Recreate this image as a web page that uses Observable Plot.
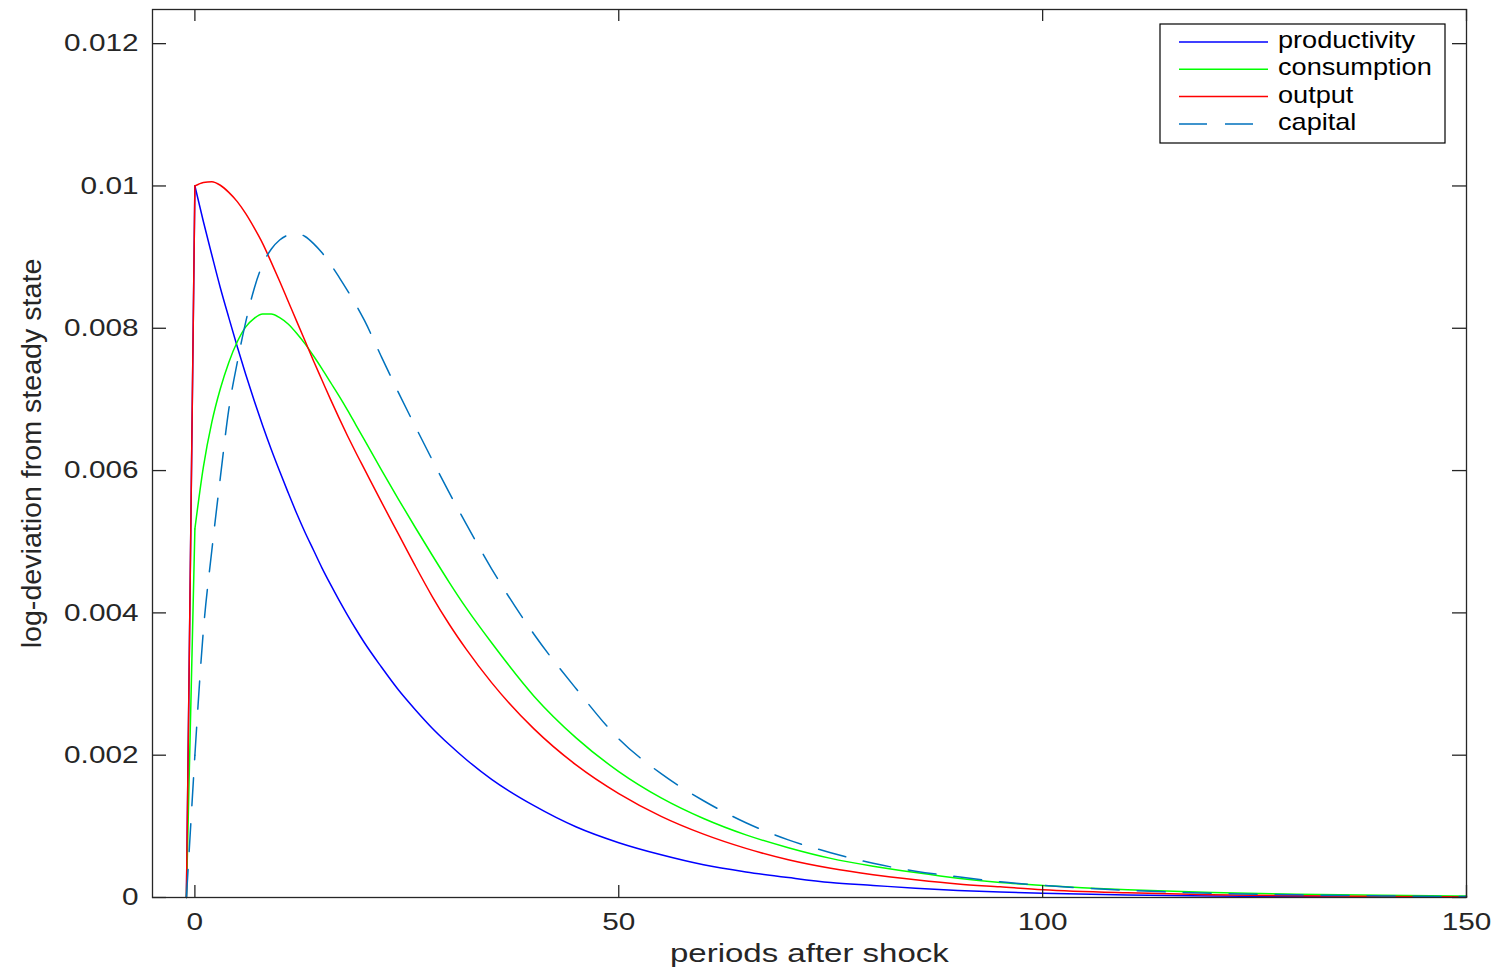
<!DOCTYPE html>
<html><head><meta charset="utf-8">
<script src="https://cdn.jsdelivr.net/npm/d3@7"></script>
<script src="https://cdn.jsdelivr.net/npm/@observablehq/plot@0.6"></script>
<style>
html,body{margin:0;padding:0;background:#fff;}
#chart svg{display:block;}
</style></head><body><div id="chart"></div>
<script>
const periods = [-1,0,1,2,3,4,5,6,7,8,9,10,11,12,13,14,15,16,17,18,19,20,22,24,26,28,30,32,35,40,45,50,55,60,65,70,75,80,85,90,95,100,110,120,130,140,150];
const productivity = [0,0.0100,0.0095,0.00903,0.00857,0.00815,0.00774,0.00735,0.00698,0.00663,0.00630,0.00599,0.00569,0.00540,0.00513,0.00488,0.00463,0.00440,0.00418,0.00397,0.00377,0.00358,0.00324,0.00292,0.00264,0.00238,0.00215,0.00194,0.00166,0.00129,0.00099,0.00077,0.00060,0.00046,0.00036,0.00028,0.00021,0.00017,0.00013,0.00010,0.000077,0.00006,0.000036,0.000021,0.000013,0.000008,0.000005];
const consumption = [0,0.00518,0.00605,0.00668,0.00715,0.00752,0.00781,0.00802,0.00814,0.00820,0.00820,0.00815,0.00806,0.00793,0.00778,0.00761,0.00743,0.00724,0.00705,0.00685,0.00664,0.00643,0.00601,0.00560,0.00520,0.00481,0.00443,0.00407,0.00358,0.00283,0.00224,0.00177,0.00140,0.00111,0.00088,0.00070,0.00055,0.00044,0.00035,0.00027,0.00021,0.00017,0.00011,0.00007,0.000045,0.00003,0.00002];
const output = [0,0.0100,0.01005,0.01006,0.01001,0.00991,0.00978,0.00961,0.00941,0.00919,0.00893,0.00866,0.00838,0.00810,0.00782,0.00754,0.00727,0.00700,0.00674,0.00649,0.00625,0.00602,0.00556,0.00511,0.00466,0.00423,0.00384,0.00349,0.00302,0.00237,0.00186,0.00146,0.00114,0.00089,0.00069,0.00053,0.00041,0.00032,0.00025,0.00019,0.00015,0.00011,0.000066,0.00004,0.000024,0.000014,0.000008];
const capital = [0,0.00200,0.00375,0.00488,0.00590,0.00686,0.00752,0.00809,0.00856,0.00890,0.00911,0.00924,0.00931,0.00933,0.00929,0.00919,0.00906,0.00890,0.00872,0.00853,0.00833,0.00811,0.00760,0.00710,0.00662,0.00615,0.00569,0.00525,0.00462,0.00370,0.00293,0.00223,0.00174,0.00136,0.00105,0.00081,0.00063,0.00048,0.00037,0.00029,0.00022,0.00017,0.00010,0.00006,0.000037,0.000022,0.000013];

const seriesNames = ["productivity", "consumption", "output", "capital"];
const seriesColors = ["#0000ff", "#00ff00", "#ff0000", "#0072bd"];
const xTicks = [0, 50, 100, 150];
const yTicks = [0, 0.002, 0.004, 0.006, 0.008, 0.01, 0.012];
const yTickLabels = ["0", "0.002", "0.004", "0.006", "0.008", "0.01", "0.012"];
const xLabel = "periods after shock";
const yLabel = "log-deviation from steady state";

const seriesValues = [productivity, consumption, output, capital];
const font = "'Liberation Sans', Arial, Helvetica, sans-serif";
const ink = "#262626";
const dash = "28,18";

// indices: the jump from the steady state (t=-1 to t=0) is drawn straight,
// the response from t=0 onward is drawn as a smooth curve
const jumpIdx = periods.map((t, j) => j).filter(j => periods[j] <= 0);
const pathIdx = periods.map((t, j) => j).filter(j => periods[j] >= 0);

const lineMarks = seriesNames.flatMap((name, i) => {
  const opts = {
    x: j => periods[j],
    y: j => seriesValues[i][j],
    stroke: seriesColors[i],
    strokeWidth: 1.5,
    strokeDasharray: name === "capital" ? dash : null
  };
  return [
    Plot.line(jumpIdx, opts),
    Plot.line(pathIdx, {...opts, curve: "monotone-x"})
  ];
});

const chart = Plot.plot({
  width: 1495,
  height: 972,
  marginLeft: 152,
  marginRight: 29,
  marginTop: 9,
  marginBottom: 75,
  style: {fontFamily: font, fontSize: "24px", color: ink, background: "#fff"},
  x: {domain: [-5, 150], ticks: xTicks, tickSize: 0, tickPadding: 15, label: null},
  y: {domain: [0, 0.01248], ticks: yTicks, tickSize: 0, tickPadding: 14, label: null,
      tickFormat: d => yTickLabels[yTicks.indexOf(d)]},
  marks: [
    ...lineMarks,
    Plot.frame({stroke: ink, strokeWidth: 1.3}),
    Plot.tickX(xTicks, {x: d => d, insetTop: 876, stroke: ink, strokeWidth: 1.3}),
    Plot.tickX(xTicks, {x: d => d, insetBottom: 876, stroke: ink, strokeWidth: 1.3}),
    Plot.tickY(yTicks, {y: d => d, insetRight: 1300, stroke: ink, strokeWidth: 1.3}),
    Plot.tickY(yTicks, {y: d => d, insetLeft: 1300, stroke: ink, strokeWidth: 1.3}),
    Plot.text([xLabel], {text: d => d, frameAnchor: "bottom", dy: 56, fontSize: 26, fill: ink,
      textAnchor: "middle", lineAnchor: "middle"}),
    Plot.text([yLabel], {text: d => d, frameAnchor: "left", dx: -120, rotate: -90, fontSize: 27, fill: ink,
      textAnchor: "middle", lineAnchor: "middle"})
  ]
});

document.getElementById("chart").appendChild(chart);

// Legend (inside the axes, top right)
const svg = d3.select(chart);
const lg = svg.append("g").attr("font-family", font).attr("font-size", 23).attr("fill", "#000")
  .attr("text-anchor", "start");
lg.append("rect").attr("x", 1160).attr("y", 24).attr("width", 285).attr("height", 119)
  .attr("fill", "#fff").attr("stroke", "#000").attr("stroke-width", 1.2);
seriesNames.forEach((name, i) => {
  const yy = 42 + i * 27.3;
  lg.append("line").attr("x1", 1179).attr("x2", 1268).attr("y1", yy).attr("y2", yy)
    .attr("stroke", seriesColors[i]).attr("stroke-width", 1.5)
    .attr("stroke-dasharray", name === "capital" ? dash : null);
  lg.append("text").attr("x", 1278).attr("y", yy).attr("text-anchor", "start")
    .attr("dominant-baseline", "middle").text(name);
});

// Horizontal stretch of the text to mimic the reference's wide glyphs
function stretch(el, k) {
  const b = el.getBBox();
  const anchor = getComputedStyle(el).textAnchor;
  const ax = anchor === "end" ? b.x + b.width : anchor === "middle" ? b.x + b.width / 2 : b.x;
  const t = el.getAttribute("transform") || "";
  el.setAttribute("transform", `${t} translate(${ax},0) scale(${k},1) translate(${-ax},0)`);
}
chart.querySelectorAll("text").forEach(el => {
  const txt = el.textContent;
  if (txt === yLabel) stretch(el, 1.06);
  else if (txt === xLabel) stretch(el, 1.27);
  else if (seriesNames.includes(txt)) stretch(el, 1.18);
  else stretch(el, 1.24);
});
</script></body></html>
